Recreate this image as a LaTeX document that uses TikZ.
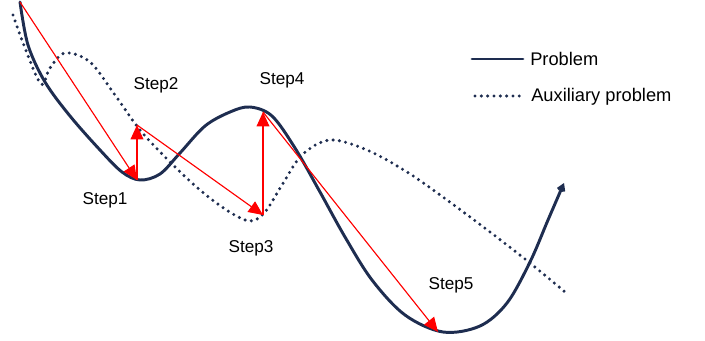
\documentclass[tikz,border=0pt]{standalone}
\usepackage{fontspec}
\setmainfont{Liberation Sans}
\usepackage{tikz}
\usetikzlibrary{arrows.meta}
\definecolor{curvenavy}{RGB}{30,45,80}
\definecolor{stepred}{RGB}{255,0,0}

\begin{document}
\begin{tikzpicture}[
    x=0.025cm, y=-0.025cm,
    problem/.style={draw=curvenavy, line width=2.1pt, line cap=round},
    auxiliary/.style={draw=curvenavy, line width=2.4pt, line cap=round, dash pattern=on 0pt off 4.5pt},
    stepmove/.style={-{Triangle[length=3.6mm, width=3.2mm]}, draw=stepred, fill=stepred, line width=0.8pt},
    steplab/.style={font=\fontsize{12.2}{14}\selectfont, inner sep=0pt},
    leglab/.style={font=\fontsize{13}{15}\selectfont, inner sep=0pt, anchor=base west}
  ]
    \useasboundingbox (0,0) rectangle (705,341);

    % curves
    \draw[problem, -{Straight Barb[length=1.3mm, width=1.6mm]}] plot[smooth, tension=0.55] coordinates {
      (20,2) (28,45) (45,82) (70,116) (100,150) (122,172) (140,180) (160,174)
      (180,153) (205,126) (230,112) (250,107) (272,116) (295,148) (320,192)
      (345,237) (372,280) (405,315) (443,332) (480,326) (507,303) (530,262)
      (548,220) (564,183)};
    \draw[auxiliary] plot[smooth, tension=0.55] coordinates {
      (13,15) (25,48) (41,84) (50,68) (65,53) (90,62) (115,95) (140,130)
      (170,162) (200,190) (228,211) (250,221) (265,212) (282,185) (302,155)
      (330,140) (367,150) (407,172) (447,200) (490,232) (530,263) (565,292)};

    % step points
    \coordinate (s0) at (20,2);
    \coordinate (s1) at (137,180);
    \coordinate (s2) at (137,125);
    \coordinate (s3) at (263,215);
    \coordinate (s4) at (263,112);
    \coordinate (s5) at (438,332);

    \draw[stepmove] (s0) -- (s1);
    \draw[stepmove] (s1) -- (s2);
    \draw[stepmove] (s2) -- (s3);
    \draw[stepmove] (s3) -- (s4);
    \draw[stepmove] (s4) -- (s5);

    \node[steplab] (lab1) at (105,200) {Step1};
    \node[steplab] (lab2) at (156,85) {Step2};
    \node[steplab] (lab3) at (251,248) {Step3};
    \node[steplab] (lab4) at (282,80) {Step4};
    \node[steplab] (lab5) at (451,285) {Step5};

    % legend
    \coordinate (lp1) at (472,59);
    \coordinate (lp2) at (523,59);
    \coordinate (la1) at (475,96);
    \coordinate (la2) at (523,96);
    \draw[problem] (lp1) -- (lp2);
    \draw[auxiliary] (la1) -- (la2);
    \node[leglab] (legp) at (530,66) {Problem};
    \node[leglab] (lega) at (531,102) {Auxiliary problem};
  \end{tikzpicture}
\end{document}
